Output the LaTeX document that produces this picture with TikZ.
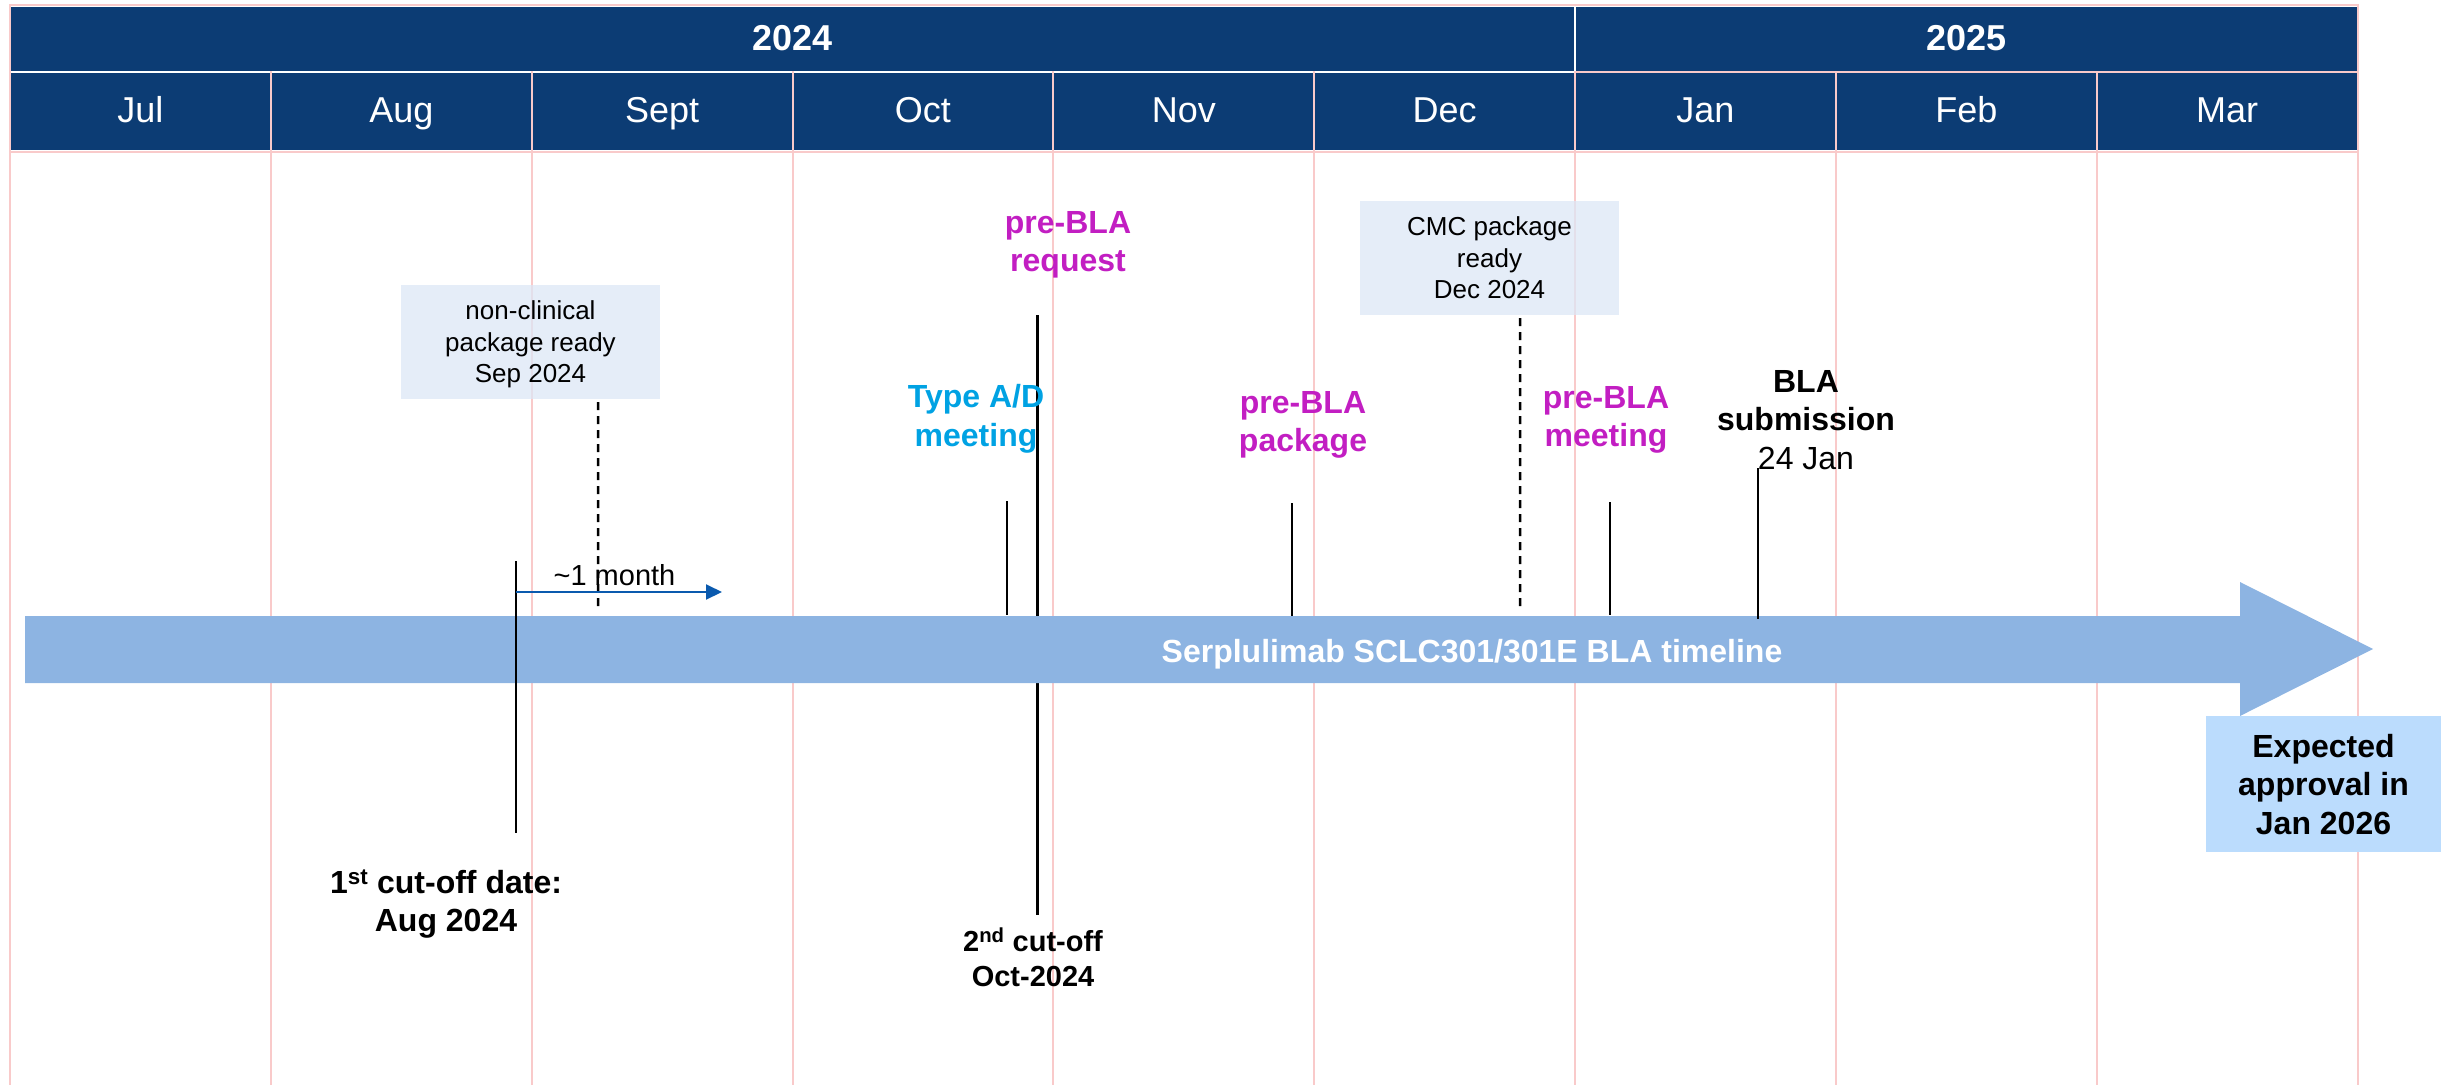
\documentclass[tikz,border=0pt]{standalone}
\usepackage{fontspec}
\setmainfont{Liberation Sans}
\usetikzlibrary{arrows.meta}
\definecolor{headerBgColor}{HTML}{0C3C74}
\definecolor{gridColor}{HTML}{F9CACA}
\definecolor{bandColor}{HTML}{8DB4E2}
\definecolor{noteBgColor}{HTML}{DCE7F6}
\definecolor{approvalBgColor}{HTML}{BBDCFD}
\definecolor{preBlaColor}{HTML}{C21EC2}
\definecolor{typeAdColor}{HTML}{00A2E3}
\definecolor{monthArrowColor}{HTML}{0A5AAE}
\def\textBand{Serplulimab SCLC301/301E BLA timeline}
\def\textTypeAd{\strut Type A/D\\\strut meeting}
\def\textRequest{\strut pre-BLA\\\strut request}
\def\textPackage{\strut pre-BLA\\\strut package}
\def\textMeeting{\strut pre-BLA\\\strut meeting}
\def\textSubmission{\strut BLA\\\strut submission\\\strut\mdseries 24 Jan}
\def\textCutA{\strut 1\textsuperscript{st} cut-off date:\\\strut Aug 2024}
\def\textCutB{\strut 2\textsuperscript{nd} cut-off\\\strut Oct-2024}
\def\textNonClinical{\rule{0pt}{28bp}non-clinical\\\strut package ready\\\strut Sep 2024}
\def\textCmc{\rule{0pt}{28bp}CMC package\\\strut ready\\\strut Dec 2024}
\def\textApproval{\rule{0pt}{35bp}Expected\\\strut approval in\\\strut Jan 2026}

\begin{document}
\begin{tikzpicture}[x=1bp,y=-1bp,
  gridLine/.style={draw=gridColor, line width=2bp},
  monthLabel/.style={inner sep=0pt, text=white, text height=25.8bp, text depth=0pt,
    font=\fontsize{36bp}{43bp}\selectfont},
  yearLabel/.style={monthLabel, font=\fontsize{36bp}{43bp}\selectfont\bfseries},
  bandText/.style={inner sep=0pt, text=white, text height=22.9bp, text depth=0pt,
    font=\fontsize{32bp}{38.4bp}\selectfont\bfseries},
  eventLabel/.style={inner sep=0pt, align=center,
    font=\fontsize{32bp}{38.4bp}\selectfont\bfseries},
  noteBox/.style={fill=noteBgColor, fill opacity=0.75, text opacity=1, inner sep=0pt,
    minimum width=259bp, minimum height=114bp, align=center,
    font=\fontsize{26bp}{31.5bp}\selectfont},
  approvalBox/.style={eventLabel, fill=approvalBgColor,
    minimum width=235bp, minimum height=136bp},
  markerLine/.style={draw=black, line width=2.5bp},
  dashLine/.style={markerLine, dash pattern=on 8bp off 6bp}]
\useasboundingbox (0,0) rectangle (2441,1085);

% header layer
\fill[headerBgColor] (10,6.7) rectangle (2357.5,150);
\draw[white, line width=2bp] (10,71.8) -- (1575,71.8);
\draw[white, line width=2bp] (1575,6.7) -- (1575,71);
\draw[gridLine] (1575,71.8) -- (2357.5,71.8);
\draw[gridLine] (10,5) -- (2357.5,5);
\draw[gridLine] (10,152) -- (2357.5,152);

% grid layer
\draw[gridLine] (10,4) -- (10,1085);
\draw[gridLine] (270.8,71) -- (270.8,1085);
\draw[gridLine] (531.7,71) -- (531.7,1085);
\draw[gridLine] (792.5,71) -- (792.5,1085);
\draw[gridLine] (1053.3,71) -- (1053.3,1085);
\draw[gridLine] (1314.2,71) -- (1314.2,1085);
\draw[gridLine] (1575,71) -- (1575,1085);
\draw[gridLine] (1835.8,71) -- (1835.8,1085);
\draw[gridLine] (2096.7,71) -- (2096.7,1085);
\draw[gridLine] (2357.5,4) -- (2357.5,1085);

% header labels
\node[yearLabel] (year2024) at (792.5,37.5) {2024};
\node[yearLabel] (year2025) at (1966.3,37.5) {2025};
\node[monthLabel] (monthJul) at (140.4,110) {Jul};
\node[monthLabel] (monthAug) at (401.3,110) {Aug};
\node[monthLabel] (monthSept) at (662.1,110) {Sept};
\node[monthLabel] (monthOct) at (922.9,110) {Oct};
\node[monthLabel] (monthNov) at (1183.8,110) {Nov};
\node[monthLabel] (monthDec) at (1444.6,110) {Dec};
\node[monthLabel] (monthJan) at (1705.4,110) {Jan};
\node[monthLabel] (monthFeb) at (1966.3,110) {Feb};
\node[monthLabel] (monthMar) at (2227.1,110) {Mar};

% note boxes
\node[noteBox] (nonClinicalBox) at (530.5,342) {\textNonClinical};
\node[noteBox] (cmcBox) at (1489.5,258) {\textCmc};

% marker behind the band
\coordinate (requestTop) at (1037.5,315);
\coordinate (requestFoot) at (1037.5,915);
\draw[markerLine] (requestTop) -- (requestFoot);

% band layer
\fill[bandColor] (25,616) -- (2240,616) -- (2240,582) -- (2373,649)
  -- (2240,716) -- (2240,683) -- (25,683) -- cycle;
\node[bandText] (bandLabel) at (1472,651) {\textBand};

% marker layer
\coordinate (cutATop) at (516,561);
\coordinate (cutAFoot) at (516,833);
\coordinate (typeAdTop) at (1007,501);
\coordinate (typeAdFoot) at (1007,615);
\coordinate (packageTop) at (1292,503);
\coordinate (packageFoot) at (1292,616);
\coordinate (meetingTop) at (1610,502);
\coordinate (meetingFoot) at (1610,615);
\coordinate (submissionTop) at (1758,468);
\coordinate (submissionFoot) at (1758,619);
\coordinate (nonClinicalFoot) at (598,612);
\coordinate (cmcFoot) at (1520,609);
\draw[markerLine] (cutATop) -- (cutAFoot);
\draw[markerLine] (typeAdTop) -- (typeAdFoot);
\draw[markerLine] (packageTop) -- (packageFoot);
\draw[markerLine] (meetingTop) -- (meetingFoot);
\draw[markerLine] (submissionTop) -- (submissionFoot);
\draw[dashLine] ([xshift=67.5bp,yshift=-3bp]nonClinicalBox.south) -- (nonClinicalFoot);
\draw[dashLine] ([xshift=30.5bp,yshift=-3bp]cmcBox.south) -- (cmcFoot);

% one month arrow
\coordinate (monthArrowStart) at (516,592);
\coordinate (monthArrowEnd) at (722,592);
\draw[monthArrowColor, line width=2bp, -{Triangle[length=16bp, width=15bp]}]
  (monthArrowStart) -- (monthArrowEnd);
\node[inner sep=0pt, text height=20.8bp, text depth=0pt,
  font=\fontsize{29bp}{35bp}\selectfont] (monthArrowLabel) at (614.5,575)
  {\textasciitilde1 month};

% label layer
\node[eventLabel, text=typeAdColor] (typeAdLabel) at (976,419.5) {\textTypeAd};
\node[eventLabel, text=preBlaColor] (requestLabel) at (1068,245) {\textRequest};
\node[eventLabel, text=preBlaColor] (packageLabel) at (1303,425) {\textPackage};
\node[eventLabel, text=preBlaColor] (meetingLabel) at (1606,420) {\textMeeting};
\node[eventLabel] (submissionLabel) at (1806,423) {\textSubmission};
\node[eventLabel] (cutALabel) at (446,905) {\textCutA};
\node[eventLabel, font=\fontsize{29bp}{35bp}\selectfont\bfseries] (cutBLabel)
  at (1033,962) {\textCutB};
\node[approvalBox] (approvalBox) at (2323.5,784) {\textApproval};
\end{tikzpicture}
\end{document}
